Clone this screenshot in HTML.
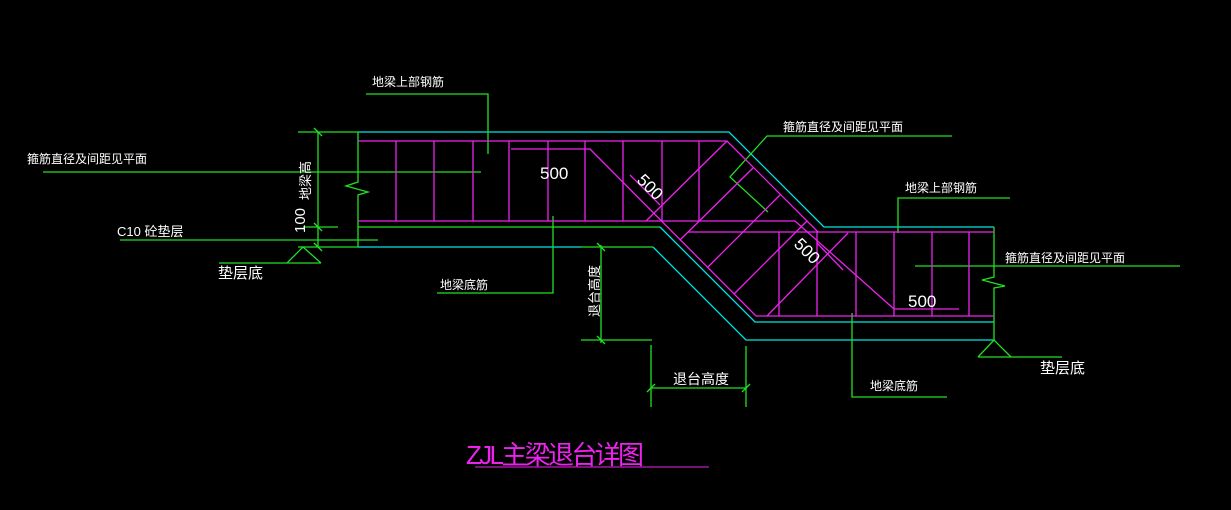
<!DOCTYPE html>
<html><head><meta charset="utf-8"><style>
html,body{margin:0;padding:0;background:#000;}
svg{display:block}
text{font-family:"Liberation Sans","Noto Sans CJK SC",sans-serif;fill:#fff;}
</style></head><body>
<svg width="1231" height="510" viewBox="0 0 1231 510" xmlns="http://www.w3.org/2000/svg">
<rect width="1231" height="510" fill="#000"/>
<g fill="none" stroke-width="1.3">
<!-- cyan outlines -->
<g stroke="#00e5e5">
<polyline points="358,132 729,132 824,227 994,227"/>
<polyline points="653,247 746,340 994,340"/>
<line x1="358" y1="247" x2="581" y2="247"/>
<polyline points="660,227 755,322 994,322"/>
</g>
<!-- green -->
<g stroke="#22e022">
<polyline points="358,132 358,182 346,186 368,192 358,195 358,247"/>
<polyline points="994,227 994,277 982,280 1005,286 994,288 994,340"/>
<line x1="358" y1="227" x2="660" y2="227"/>
<line x1="581" y1="247" x2="653" y2="247"/>
<!-- left dim -->
<line x1="298" y1="132" x2="358" y2="132"/>
<line x1="318" y1="132" x2="318" y2="247"/>
<line x1="303" y1="227" x2="338" y2="227"/>
<line x1="298" y1="247" x2="358" y2="247"/>
<line x1="314" y1="128" x2="322" y2="136"/><line x1="314" y1="223" x2="322" y2="231"/><line x1="314" y1="243" x2="322" y2="251"/>
<polyline points="287,263 303,247 321,263"/>
<line x1="219" y1="263" x2="321" y2="263"/>
<line x1="43" y1="172" x2="481" y2="172"/>
<line x1="120" y1="240" x2="378" y2="240"/>
<!-- top label -->
<polyline points="366,94 488,94 488,154"/>
<!-- bottom label left -->
<polyline points="437,293 553,293 553,216"/>
<!-- vertical dim 退台高度 -->
<line x1="601" y1="245" x2="601" y2="343"/>
<line x1="581" y1="340" x2="652" y2="340"/>
<line x1="597" y1="243" x2="605" y2="251"/><line x1="597" y1="336" x2="605" y2="344"/>
<!-- horizontal dim -->
<line x1="651" y1="345" x2="651" y2="407"/>
<line x1="746" y1="346" x2="746" y2="407"/>
<line x1="651" y1="388" x2="746" y2="388"/>
<line x1="647" y1="392" x2="655" y2="384"/><line x1="742" y1="392" x2="750" y2="384"/>
<!-- right leaders -->
<polyline points="952,136 767,136 730,177 768,212"/>
<polyline points="1010,198 898,198 898,233"/>
<line x1="915" y1="266" x2="1180" y2="266"/>
<polyline points="947,397 852,397 852,313"/>
<polyline points="978,357 994,340 1011,357"/>
<line x1="978" y1="357" x2="1062" y2="357"/>
</g>
<!-- magenta rebar -->
<g stroke="#ee22ee">
<polyline points="358,141 727,141 818,232 994,232"/>
<polyline points="358,221 795,221 894,309 959,309"/>
<polyline points="511,149 590,149 756,316 994,316"/>
<line x1="688" y1="232" x2="818" y2="232"/>
<g>
<line x1="396" y1="141" x2="396" y2="221"/><line x1="434" y1="141" x2="434" y2="221"/>
<line x1="473" y1="141" x2="473" y2="221"/><line x1="509" y1="141" x2="509" y2="221"/>
<line x1="548" y1="141" x2="548" y2="221"/><line x1="585" y1="141" x2="585" y2="221"/>
<line x1="623" y1="141" x2="623" y2="221"/><line x1="662" y1="141" x2="662" y2="221"/>
<line x1="699" y1="141" x2="699" y2="221"/>
<line x1="779" y1="232" x2="779" y2="316"/><line x1="817" y1="232" x2="817" y2="316"/>
<line x1="856" y1="232" x2="856" y2="316"/><line x1="894" y1="232" x2="894" y2="316"/>
<line x1="932" y1="232" x2="932" y2="316"/><line x1="969" y1="232" x2="969" y2="316"/>
</g>
<line x1="646" y1="221" x2="727" y2="141"/>
<line x1="680" y1="240" x2="753" y2="168"/>
<line x1="708" y1="267" x2="780" y2="195"/>
<line x1="734" y1="294" x2="807" y2="221"/>
<line x1="767" y1="316" x2="848" y2="233"/>
<line x1="630" y1="175" x2="660" y2="205"/>
<line x1="817" y1="243" x2="843" y2="270"/>
</g>
</g>
<!-- text -->
<g font-size="12">
<text x="372" y="86">地梁上部钢筋</text>
<text x="27" y="163">箍筋直径及间距见平面</text>
<text x="117" y="236" font-size="13">C10 砼垫层</text>
<text x="218" y="278" font-size="15">垫层底</text>
<text x="440" y="289">地梁底筋</text>
<text x="783" y="131">箍筋直径及间距见平面</text>
<text x="905" y="192">地梁上部钢筋</text>
<text x="1005" y="262">箍筋直径及间距见平面</text>
<text x="870" y="390">地梁底筋</text>
<text x="1040" y="373" font-size="15">垫层底</text>
<text x="673" y="384" font-size="14">退台高度</text>
<text x="540" y="179" font-size="17">500</text>
<text x="908" y="307" font-size="17">500</text>
<text transform="translate(636,181) rotate(45)" font-size="17">500</text>
<text transform="translate(793,245) rotate(45)" font-size="17">500</text>
<text transform="translate(310,200) rotate(-90)" font-size="13">地梁高</text>
<text transform="translate(305,233) rotate(-90)" font-size="15">100</text>
<text transform="translate(599,317) rotate(-90)" font-size="13">退台高度</text>
</g>
<text x="466" y="464" font-size="26" style="fill:#ee22ee" textLength="178">ZJL主梁退台详图</text>
<line x1="475" y1="467" x2="709" y2="467" stroke="#ee22ee" stroke-width="1"/>
</svg>
</body></html>
